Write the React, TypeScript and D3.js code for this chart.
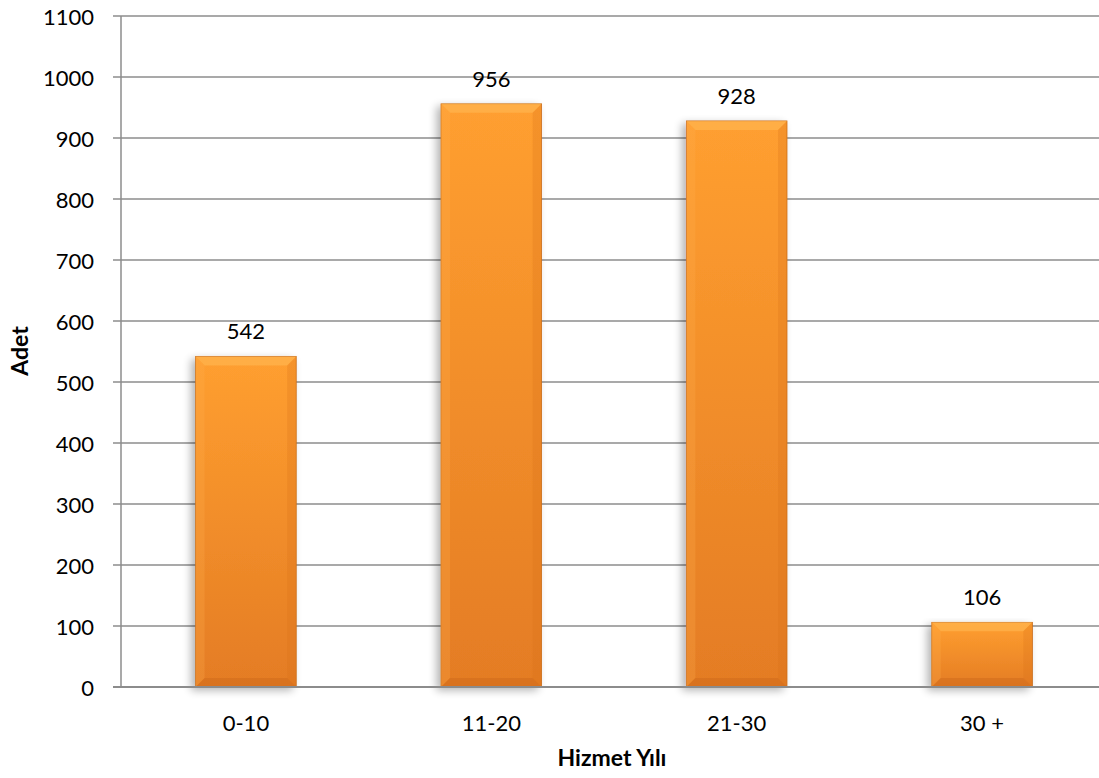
import React from "react";
import * as d3 from "d3";

const categories = ["0-10", "11-20", "21-30", "30 +"];
const values = [542, 956, 928, 106];
const yTicks = [0, 100, 200, 300, 400, 500, 600, 700, 800, 900, 1000, 1100];

const W = 1099;
const H = 778;
const M = { left: 121, right: 1100, top: 16, bottom: 687 };
const FONT = "Lato, 'Open Sans', sans-serif";

export default function App() {
  const x = d3.scaleBand<string>().domain(categories).range([122, 1106]).paddingInner(0.59).paddingOuter(0.3);
  const y = d3.scaleLinear().domain([0, 1100]).range([M.bottom, M.top]);
  const bw = x.bandwidth();
  const b = 9;
  return (
    <svg width={W} height={H} style={{ position: "absolute", left: 0, top: 0, background: "#fff" }}>
      <defs>
        <linearGradient id="barg" x1="0" y1="0" x2="0" y2="1">
          <stop offset="0" stopColor="#FF9F30" />
          <stop offset="1" stopColor="#E47C24" />
        </linearGradient>
        <filter id="shadow" x="-30%" y="-10%" width="160%" height="130%">
          <feGaussianBlur in="SourceAlpha" stdDeviation="4" />
          <feOffset dx="-4" dy="3" result="blur" />
          <feComponentTransfer>
            <feFuncA type="linear" slope="0.3" />
          </feComponentTransfer>
          <feMerge>
            <feMergeNode />
            <feMergeNode in="SourceGraphic" />
          </feMerge>
        </filter>
      </defs>
      {yTicks.map((t) => (
        <g key={t}>
          <line x1={113} x2={M.right} y1={y(t)} y2={y(t)} stroke="#8c8c8c" strokeWidth={t === 0 ? 2 : 1.3} />
          <text x={94} y={y(t)} textAnchor="end" dominantBaseline="central" fontFamily={FONT} fontSize={22} fill="#000">
            {t}
          </text>
        </g>
      ))}
      <line x1={M.left} x2={M.left} y1={M.top} y2={M.bottom} stroke="#8c8c8c" strokeWidth={1.5} />
      {categories.map((c, i) => {
        const x0 = x(c)!;
        const y0 = y(values[i]);
        const y1 = y(0);
        const x1 = x0 + bw;
        return (
          <g key={c}>
            <g filter="url(#shadow)">
              <rect x={x0} y={y0} width={bw} height={y1 - y0} fill="url(#barg)" stroke="#C9701F" strokeWidth={0.8} />
            </g>
            <polygon points={`${x0},${y0} ${x1},${y0} ${x1 - b},${y0 + b} ${x0 + b},${y0 + b}`} fill="#FFBE5A" opacity={0.5} />
            <polygon points={`${x0},${y0} ${x0 + b},${y0 + b} ${x0 + b},${y1 - b} ${x0},${y1}`} fill="#FFB050" opacity={0.25} />
            <polygon points={`${x1},${y0} ${x1 - b},${y0 + b} ${x1 - b},${y1 - b} ${x1},${y1}`} fill="#D96E18" opacity={0.25} />
            <polygon points={`${x0},${y1} ${x0 + b},${y1 - b} ${x1 - b},${y1 - b} ${x1},${y1}`} fill="#C9651A" opacity={0.4} />
            <text x={x0 + bw / 2} y={y0 - 17} textAnchor="middle" fontFamily={FONT} fontSize={22} fill="#000">
              {values[i]}
            </text>
            <text x={x0 + bw / 2} y={722} textAnchor="middle" dominantBaseline="central" fontFamily={FONT} fontSize={22} fill="#000">
              {c}
            </text>
          </g>
        );
      })}
      <line x1={M.left} x2={M.right} y1={y(0)} y2={y(0)} stroke="#8c8c8c" strokeWidth={2} />
      <text x={612} y={757} textAnchor="middle" dominantBaseline="central" fontFamily={FONT} fontSize={23} fontWeight="bold" fill="#000">
        Hizmet Yılı
      </text>
      <text transform={`translate(19,351) rotate(-90)`} textAnchor="middle" dominantBaseline="central" fontFamily={FONT} fontSize={23} fontWeight="bold" fill="#000">
        Adet
      </text>
    </svg>
  );
}
